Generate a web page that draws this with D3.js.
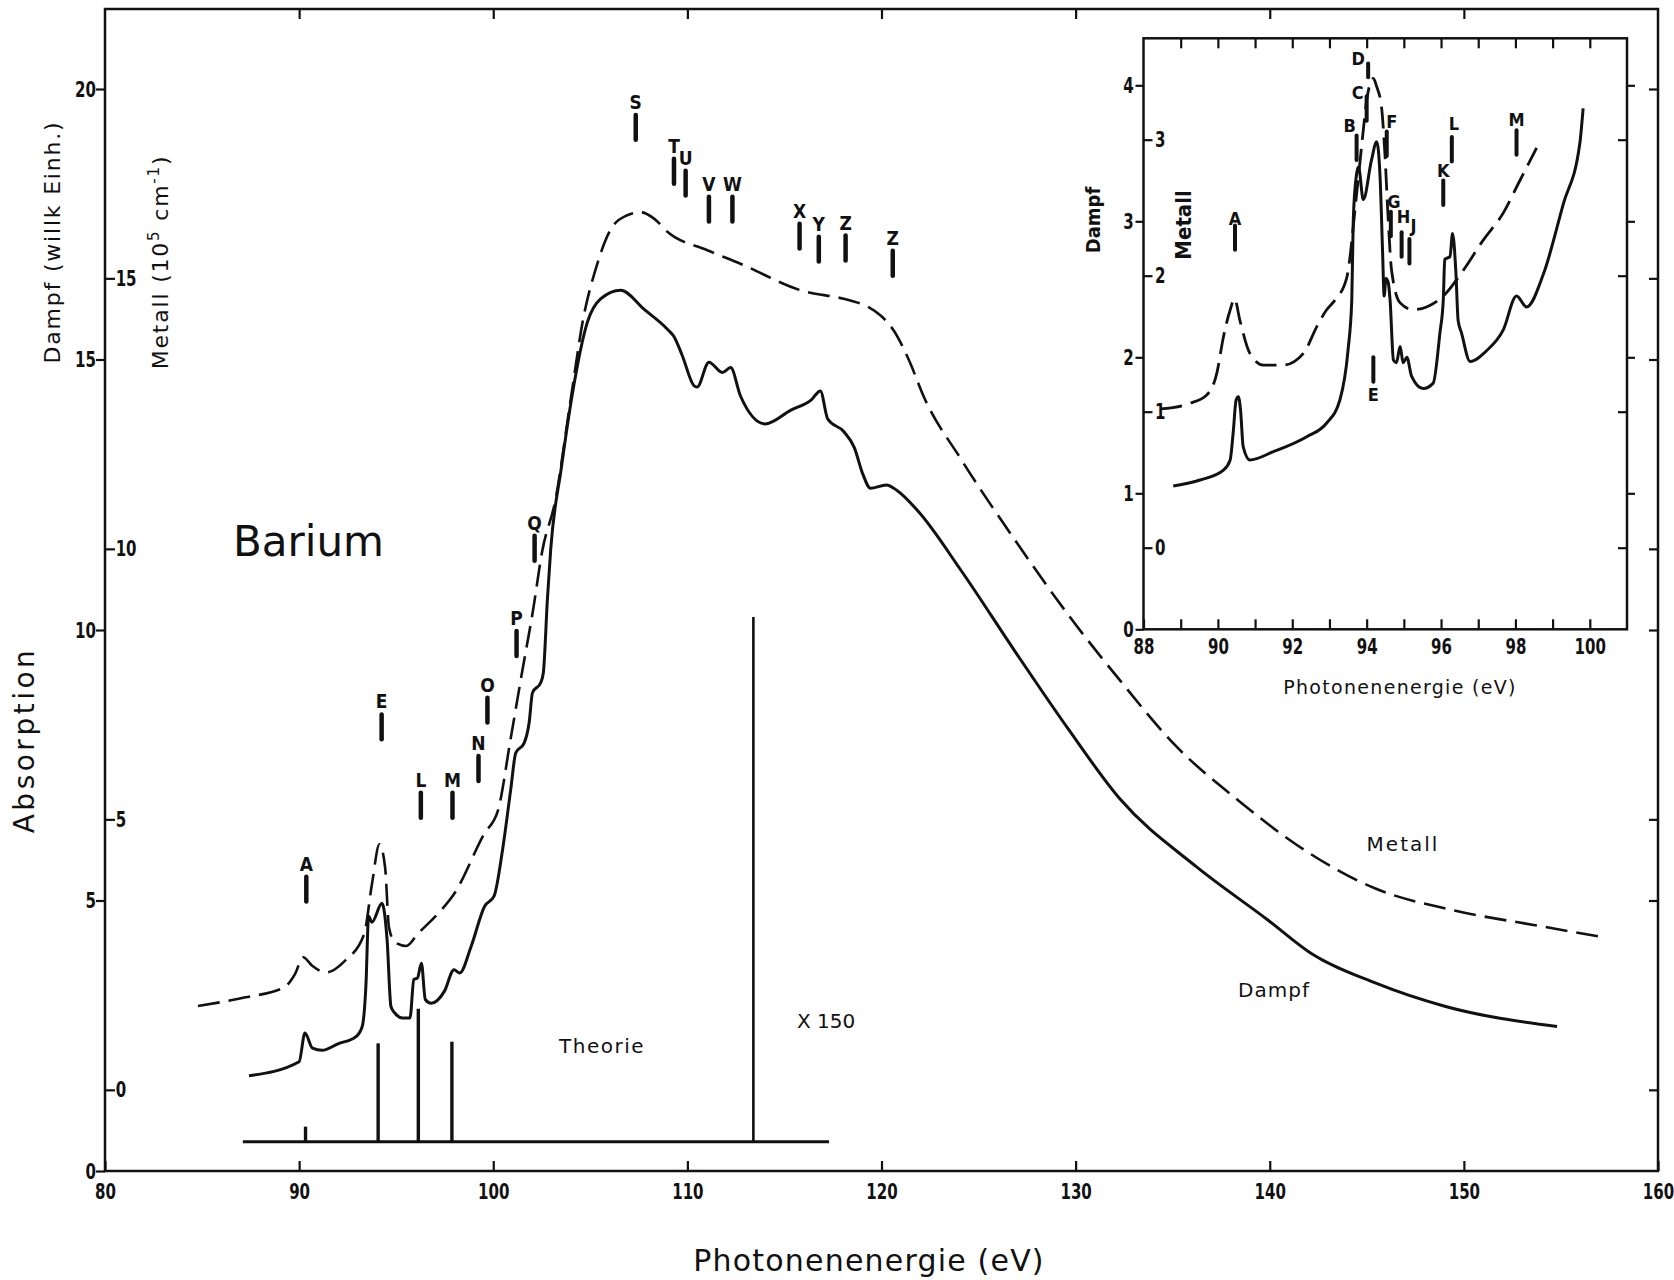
<!DOCTYPE html>
<html>
<head>
<meta charset="utf-8">
<script src="https://cdn.jsdelivr.net/npm/d3@7"></script>
<style>
  body { margin: 0; background: #fff; }
  svg { display: block; }
  text { fill: #111; font-family: 'DejaVu Sans', sans-serif; }
  .num { font-family: 'DejaVu Sans Condensed', 'Liberation Sans Narrow', 'DejaVu Sans', sans-serif; font-stretch: condensed; font-weight: bold; }
</style>
</head>
<body>
<div id="chart"></div>
<script>

// ---- main plot: Dampf (vapour, solid) and Metall (metal, dashed) ----
var dampfEnergy = [87.42, 90.0, 90.3, 90.69, 91.18, 92.0, 92.95, 93.25, 93.44, 93.58, 93.75, 94.27, 94.53, 94.73, 94.93, 95.31, 95.71, 95.91, 96.1, 96.3, 96.5, 96.8, 97.48, 97.98, 98.27, 98.86, 99.55, 100.04, 100.48, 100.9, 101.16, 101.59, 101.85, 102.02, 102.45, 102.58, 102.79, 102.96, 103.5, 104.06, 104.85, 105.53, 106.57, 107.76, 108.97, 109.3, 109.74, 110.33, 110.5, 111.11, 111.8, 112.23, 112.73, 114.0, 115.31, 116.4, 116.85, 117.23, 118.05, 118.6, 119.04, 119.43, 120.25, 120.8, 121.9, 124.1, 126.85, 129.6, 132.3, 136.2, 139.9, 142.1, 145.4, 149.06, 154.8];
var dampfValue  = [1.76, 2.02, 2.55, 2.27, 2.23, 2.35, 2.49, 2.67, 3.42, 4.71, 4.6, 4.95, 4.28, 3.04, 2.92, 2.83, 2.83, 3.54, 3.57, 3.84, 3.17, 3.10, 3.32, 3.72, 3.66, 4.15, 4.89, 5.08, 5.94, 7.05, 7.73, 7.91, 8.29, 8.84, 9.03, 9.21, 10.57, 11.49, 12.98, 14.33, 15.69, 16.12, 16.28, 15.93, 15.56, 15.43, 15.07, 14.52, 14.49, 14.95, 14.76, 14.85, 14.33, 13.81, 14.06, 14.26, 14.42, 13.9, 13.67, 13.37, 12.88, 12.62, 12.68, 12.58, 12.19, 11.1, 9.62, 8.18, 6.87, 5.63, 4.64, 4.03, 3.48, 3.04, 2.67];

var metallEnergy = [84.79, 87.24, 89.21, 89.8, 90.2, 90.69, 91.38, 92.37, 93.35, 93.75, 94.14, 94.43, 94.63, 94.93, 95.52, 96.1, 97.29, 97.98, 99.53, 100.24, 100.9, 101.5, 102.02, 102.53, 103.2, 103.94, 104.65, 105.3, 106.03, 106.8, 107.6, 108.3, 108.97, 111.03, 112.73, 115.83, 118.39, 119.27, 120.0, 120.62, 121.4, 122.18, 124.11, 126.86, 129.6, 132.35, 135.1, 138.38, 141.34, 145.38, 149.45, 153.88, 157.36];
var metallValue  = [1.55, 1.71, 1.89, 2.15, 2.45, 2.29, 2.17, 2.39, 2.88, 3.80, 4.54, 4.11, 3.0, 2.73, 2.66, 2.88, 3.31, 3.62, 4.73, 5.16, 6.5, 7.75, 8.8, 9.97, 10.9, 12.64, 14.28, 15.2, 15.89, 16.15, 16.22, 16.1, 15.86, 15.52, 15.27, 14.78, 14.59, 14.48, 14.3, 14.04, 13.5, 12.81, 11.65, 10.17, 8.79, 7.54, 6.38, 5.35, 4.54, 3.73, 3.32, 3.03, 2.81];

// theory stick spectrum (Dampf units)
var theoryEnergy = [90.33, 94.07, 96.14, 97.87, 113.4];
var theoryValue  = [0.82, 2.36, 3.0, 2.39, 10.24];
var theoryBase = 0.54;
var theorySpan = [87.1, 117.3];

// assignment marks in the main plot: label, energy, lower end of bar (Dampf units)
var mainMarkLabel  = ["A", "E", "L", "M", "N", "O", "P", "Q", "S", "T", "U", "V", "W", "X", "Y", "Z", "Z"];
var mainMarkEnergy = [90.37, 94.25, 96.27, 97.9, 99.24, 99.7, 101.2, 102.13, 107.34, 109.31, 109.91, 111.11, 112.32, 115.78, 116.77, 118.15, 120.58];
var mainMarkLevel  = [4.98, 7.98, 6.53, 6.53, 7.21, 8.29, 9.52, 11.28, 19.06, 18.25, 18.03, 17.55, 17.55, 17.05, 16.81, 16.83, 16.55];

var mainXTicks = [80, 90, 100, 110, 120, 130, 140, 150, 160];
var mainDampfTicks = [0, 5, 10, 15, 20];
var mainMetallTicks = [0, 5, 10, 15];

// ---- inset: 88-101 eV ----
var insetDampfEnergy = [88.8, 89.52, 90.15, 90.33, 90.41, 90.49, 90.55, 90.61, 90.68, 90.86, 91.49, 92.39, 92.92, 93.28, 93.5, 93.6, 93.64, 93.73, 93.78, 93.91, 94.13, 94.27, 94.36, 94.43, 94.47, 94.52, 94.58, 94.63, 94.72, 94.8, 94.9, 94.98, 95.08, 95.21, 95.52, 95.79, 95.97, 96.06, 96.1, 96.24, 96.31, 96.4, 96.46, 96.55, 96.78, 97.23, 97.67, 98.03, 98.3, 98.75, 99.29, 99.73, 99.82];
var insetDampfValue  = [1.054, 1.098, 1.171, 1.245, 1.441, 1.686, 1.71, 1.61, 1.343, 1.245, 1.306, 1.416, 1.515, 1.686, 2.054, 2.421, 3.01, 3.35, 3.4, 3.16, 3.45, 3.585, 3.33, 2.76, 2.45, 2.58, 2.55, 2.42, 1.98, 1.96, 2.08, 1.96, 2.0, 1.86, 1.77, 1.81, 2.18, 2.42, 2.72, 2.74, 2.91, 2.62, 2.27, 2.18, 1.97, 2.05, 2.2, 2.45, 2.37, 2.61, 3.13, 3.57, 3.83];

var insetMetallEnergy = [88.45, 89.25, 89.7, 89.97, 90.15, 90.33, 90.45, 90.59, 90.86, 91.22, 91.76, 92.3, 92.66, 92.92, 93.15, 93.46, 93.73, 93.91, 94.0, 94.18, 94.27, 94.4, 94.49, 94.58, 94.67, 94.9, 95.25, 95.61, 96.06, 96.6, 97.13, 97.67, 98.12, 98.57];
var insetMetallValue  = [1.02, 1.062, 1.123, 1.282, 1.551, 1.748, 1.83, 1.674, 1.429, 1.343, 1.343, 1.429, 1.625, 1.748, 1.821, 1.98, 2.6, 3.07, 3.29, 3.45, 3.39, 3.24, 2.9, 2.41, 2.04, 1.8, 1.75, 1.77, 1.85, 2.04, 2.26, 2.46, 2.7, 2.94];

var insetMarkLabel  = ["A", "B", "C", "D", "E", "F", "G", "H", "J", "K", "L", "M"];
var insetMarkEnergy = [90.46, 93.73, 94.0, 94.04, 94.18, 94.54, 94.65, 94.94, 95.15, 96.06, 96.29, 98.03];
var insetMarkLevel  = [2.79, 3.45, 3.74, 4.06, 1.82, 3.48, 2.89, 2.74, 2.69, 3.12, 3.44, 3.49];

var insetXTicks = [88, 89, 90, 91, 92, 93, 94, 95, 96, 97, 98, 99, 100];
var insetDampfTicks = [0, 1, 2, 3, 4];
var insetMetallTicks = [0, 1, 2, 3];


var width = 1674, height = 1280;
var svg = d3.select("#chart").append("svg")
  .attr("width", width)
  .attr("height", height);

var ink = "#111";

// scales; Metall axis is shifted by 1.5 units against Dampf
var x = d3.scaleLinear().domain([80, 160]).range([105, 1658]);
var yD = d3.scaleLinear().domain([0, 20]).range([1171, 89]);
var yM = d3.scaleLinear().domain([-1.5, 18.5]).range([1171, 89]);

var xI = d3.scaleLinear().domain([88, 101]).range([1143.5, 1627]);
var yID = d3.scaleLinear().domain([0, 4]).range([629.3, 85.3]);
var yIM = d3.scaleLinear().domain([-0.6, 3.4]).range([629.3, 85.3]);

var fmt = d3.format("d");

// narrow, bold lettering like the stencilled numbers of the original
function styleAxis(g, size) {
  g.select(".domain").remove();
  g.selectAll(".tick line").attr("stroke", ink).attr("stroke-width", 2.2);
  g.selectAll(".tick text")
    .attr("class", "num")
    .attr("font-size", size)
    .attr("fill", ink)
    .attr("transform", "scale(0.76,1)");
}

// main frame
svg.append("rect")
  .attr("x", x(80)).attr("y", 9)
  .attr("width", x(160) - x(80)).attr("height", yD(0) - 9)
  .attr("fill", "none").attr("stroke", ink).attr("stroke-width", 2.5);

svg.append("g").attr("transform", "translate(0," + yD(0) + ")")
  .call(d3.axisBottom(x).tickValues(mainXTicks).tickSize(-10).tickPadding(12).tickFormat(fmt))
  .call(styleAxis, 22);

svg.append("g").attr("transform", "translate(0,9)")
  .call(d3.axisTop(x).tickValues(mainXTicks.slice(1, -1)).tickSize(-10).tickFormat(""))
  .call(styleAxis, 22);

svg.append("g").attr("transform", "translate(" + x(80) + ",0)")
  .call(d3.axisLeft(yD).tickValues(mainDampfTicks).tickSize(9).tickPadding(3).tickFormat(fmt))
  .call(styleAxis, 22);

svg.append("g").attr("transform", "translate(" + x(80) + ",0)")
  .call(d3.axisRight(yM).tickValues(mainMetallTicks).tickSize(10).tickPadding(4).tickFormat(fmt))
  .call(styleAxis, 22);

svg.append("g").attr("transform", "translate(" + x(160) + ",0)")
  .call(d3.axisLeft(yD).tickValues(mainDampfTicks.slice(1)).tickSize(9).tickFormat(""))
  .call(styleAxis, 22);

svg.append("g").attr("transform", "translate(" + x(160) + ",0)")
  .call(d3.axisLeft(yM).tickValues(mainMetallTicks).tickSize(9).tickFormat(""))
  .call(styleAxis, 22);

// axis titles
svg.append("text")
  .attr("transform", "translate(34,740) rotate(-90)")
  .attr("text-anchor", "middle")
  .attr("font-size", 28).attr("letter-spacing", 3.5)
  .text("Absorption");

svg.append("text")
  .attr("transform", "translate(60,242) rotate(-90)")
  .attr("text-anchor", "middle")
  .attr("font-size", 22).attr("letter-spacing", 1.8)
  .text("Dampf (willk Einh.)");

var metTitle = svg.append("text")
  .attr("transform", "translate(168,262) rotate(-90)")
  .attr("text-anchor", "middle")
  .attr("font-size", 22).attr("letter-spacing", 1.8);
metTitle.append("tspan").text("Metall (10");
metTitle.append("tspan").attr("baseline-shift", "super").attr("font-size", 15).text("5");
metTitle.append("tspan").text(" cm");
metTitle.append("tspan").attr("baseline-shift", "super").attr("font-size", 15).text("-1");
metTitle.append("tspan").text(")");

svg.append("text")
  .attr("x", 869).attr("y", 1271)
  .attr("text-anchor", "middle")
  .attr("font-size", 30).attr("letter-spacing", 1.2)
  .text("Photonenenergie (eV)");

svg.append("text")
  .attr("x", 233).attr("y", 556)
  .attr("font-size", 42)
  .text("Barium");

// theory sticks
svg.append("line")
  .attr("x1", x(theorySpan[0])).attr("x2", x(theorySpan[1]))
  .attr("y1", yD(theoryBase)).attr("y2", yD(theoryBase))
  .attr("stroke", ink).attr("stroke-width", 3);

svg.selectAll(".stick")
  .data(d3.zip(theoryEnergy, theoryValue))
  .enter().append("line")
  .attr("class", "stick")
  .attr("x1", function(d) { return x(d[0]); })
  .attr("x2", function(d) { return x(d[0]); })
  .attr("y1", yD(theoryBase))
  .attr("y2", function(d) { return yD(d[1]); })
  .attr("stroke", ink)
  .attr("stroke-width", function(d, i) { return i == 4 ? 2.6 : 3.4; });

// curves
var lineD = d3.line()
  .x(function(d) { return x(d[0]); })
  .y(function(d) { return yD(d[1]); })
  .curve(d3.curveMonotoneX);

var lineM = d3.line()
  .x(function(d) { return x(d[0]); })
  .y(function(d) { return yM(d[1]); })
  .curve(d3.curveMonotoneX);

svg.append("path")
  .attr("d", lineD(d3.zip(dampfEnergy, dampfValue)))
  .attr("fill", "none").attr("stroke", ink).attr("stroke-width", 3);

svg.append("path")
  .attr("d", lineM(d3.zip(metallEnergy, metallValue)))
  .attr("fill", "none").attr("stroke", ink).attr("stroke-width", 2.6)
  .attr("stroke-dasharray", "22,9");

// curve labels
function label(txt, cx, cy, size, ls) {
  svg.append("text")
    .attr("x", cx).attr("y", cy)
    .attr("text-anchor", "middle")
    .attr("font-size", size).attr("letter-spacing", ls)
    .text(txt);
}
label("Metall", 1403, 851, 20, 2);
label("Dampf", 1274, 997, 20, 1);
label("Theorie", 602, 1053, 20, 1.5);
label("X 150", 826, 1028, 20, 0);

// assignment marks
var marks = svg.selectAll(".mark")
  .data(d3.zip(mainMarkLabel, mainMarkEnergy, mainMarkLevel))
  .enter().append("g").attr("class", "mark");

marks.append("line")
  .attr("x1", function(d) { return x(d[1]); })
  .attr("x2", function(d) { return x(d[1]); })
  .attr("y1", function(d) { return yD(d[2]); })
  .attr("y2", function(d) { return yD(d[2] + 0.46); })
  .attr("stroke", ink).attr("stroke-width", 4.5).attr("stroke-linecap", "round");

marks.append("text")
  .attr("class", "num")
  .attr("x", function(d) { return x(d[1]); })
  .attr("y", function(d) { return yD(d[2] + 0.46) - 6; })
  .attr("text-anchor", "middle")
  .attr("font-size", 19)
  .text(function(d) { return d[0]; });

// ---- inset ----
svg.append("rect")
  .attr("x", xI(88)).attr("y", 38.3)
  .attr("width", xI(101) - xI(88)).attr("height", yID(0) - 38.3)
  .attr("fill", "#fff").attr("stroke", ink).attr("stroke-width", 2.5);

svg.append("g").attr("transform", "translate(0," + yID(0) + ")")
  .call(d3.axisBottom(xI).tickValues(insetXTicks).tickSize(-10).tickPadding(9)
    .tickFormat(function(d) { return d % 2 == 0 ? d : ""; }))
  .call(styleAxis, 22);

svg.append("g").attr("transform", "translate(0,38.3)")
  .call(d3.axisTop(xI).tickValues(insetXTicks.slice(1)).tickSize(-10).tickFormat(""))
  .call(styleAxis, 22);

svg.append("g").attr("transform", "translate(" + xI(88) + ",0)")
  .call(d3.axisLeft(yID).tickValues(insetDampfTicks).tickSize(8).tickPadding(5).tickFormat(fmt))
  .call(styleAxis, 22);

svg.append("g").attr("transform", "translate(" + xI(88) + ",0)")
  .call(d3.axisRight(yIM).tickValues(insetMetallTicks).tickSize(9).tickPadding(6).tickFormat(fmt))
  .call(styleAxis, 22);

svg.append("g").attr("transform", "translate(" + xI(101) + ",0)")
  .call(d3.axisRight(yID).tickValues(insetDampfTicks.slice(1)).tickSize(8).tickFormat(""))
  .call(styleAxis, 22);

svg.append("g").attr("transform", "translate(" + xI(101) + ",0)")
  .call(d3.axisLeft(yIM).tickValues(insetMetallTicks).tickSize(9).tickFormat(""))
  .call(styleAxis, 22);

svg.append("text")
  .attr("x", 1400).attr("y", 694)
  .attr("text-anchor", "middle")
  .attr("font-size", 19).attr("letter-spacing", 1.3)
  .text("Photonenenergie (eV)");

svg.append("text")
  .attr("class", "num")
  .attr("transform", "translate(1100,220) rotate(-90)")
  .attr("text-anchor", "middle")
  .attr("font-size", 20)
  .text("Dampf");

svg.append("text")
  .attr("class", "num")
  .attr("transform", "translate(1191,225) rotate(-90)")
  .attr("text-anchor", "middle")
  .attr("font-size", 22)
  .text("Metall");

var lineID = d3.line()
  .x(function(d) { return xI(d[0]); })
  .y(function(d) { return yID(d[1]); })
  .curve(d3.curveMonotoneX);

var lineIM = d3.line()
  .x(function(d) { return xI(d[0]); })
  .y(function(d) { return yIM(d[1]); })
  .curve(d3.curveMonotoneX);

svg.append("path")
  .attr("d", lineID(d3.zip(insetDampfEnergy, insetDampfValue)))
  .attr("fill", "none").attr("stroke", ink).attr("stroke-width", 3);

svg.append("path")
  .attr("d", lineIM(d3.zip(insetMetallEnergy, insetMetallValue)))
  .attr("fill", "none").attr("stroke", ink).attr("stroke-width", 2.8)
  .attr("stroke-dasharray", "22,9");

// letter nudges where the original lettering sits beside its bar
var nudge = { B: [-7, 0], C: [-9, 7], D: [-10, 5], F: [5, 0], G: [3, 0], H: [2, -5], J: [4, -3], L: [2, -3], A: [0, 4] };

var imarks = svg.selectAll(".imark")
  .data(d3.zip(insetMarkLabel, insetMarkEnergy, insetMarkLevel))
  .enter().append("g").attr("class", "imark");

imarks.append("line")
  .attr("x1", function(d) { return xI(d[1]); })
  .attr("x2", function(d) { return xI(d[1]); })
  .attr("y1", function(d) { return yID(d[2]); })
  .attr("y2", function(d) { return yID(d[2] + (d[0] == "D" ? 0.1 : 0.18)); })
  .attr("stroke", ink).attr("stroke-width", 4).attr("stroke-linecap", "round");

imarks.append("text")
  .attr("class", "num")
  .attr("x", function(d) { return xI(d[1]) + (nudge[d[0]] ? nudge[d[0]][0] : 0); })
  .attr("y", function(d) {
    if (d[0] == "E") return yID(d[2]) + 19;
    var top = yID(d[2] + (d[0] == "D" ? 0.1 : 0.18));
    return top - 4 + (nudge[d[0]] ? nudge[d[0]][1] : 0);
  })
  .attr("text-anchor", "middle")
  .attr("font-size", 18)
  .text(function(d) { return d[0]; });

</script>
</body>
</html>
